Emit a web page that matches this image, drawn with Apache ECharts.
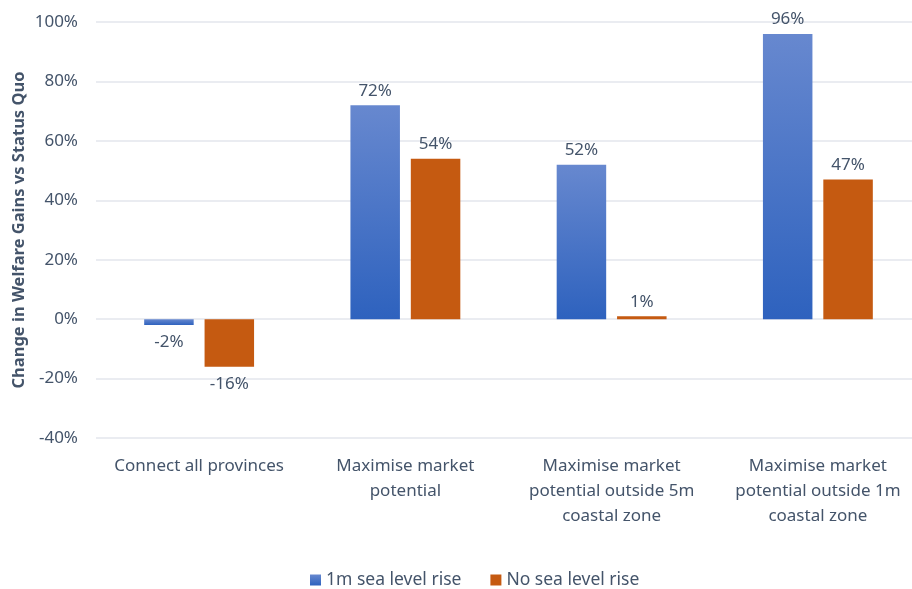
<!DOCTYPE html>
<html>
<head>
<meta charset="utf-8">
<script src="https://cdn.jsdelivr.net/npm/echarts@6/dist/echarts.min.js"></script>
<style>
html, body { margin: 0; padding: 0; background: #fff; }
#chart { width: 912px; height: 589px; }
</style>
</head>
<body>
<div id="chart"></div>
<script>
var categories = [
	'Connect all provinces',
	'Maximise market\npotential',
	'Maximise market\npotential outside 5m\ncoastal zone',
	'Maximise market\npotential outside 1m\ncoastal zone'
];
var seaRise1m = [-2, 72, 52, 96];
var noSeaRise = [-16, 54, 1, 47];
var yTicks = { min: -40, max: 100, step: 20 };

var textColor = '#44546a';
var fontFamily = 'Noto Sans, sans-serif';

// negative values get their label under the bar
function withLabels(values) {
	return values.map(function (v) {
		return {
			value: v,
			label: v < 0 ? { position: 'bottom', distance: 9 } : { position: 'top', distance: 6 }
		};
	});
}

var blueFill = new echarts.graphic.LinearGradient(0, 0, 0, 1, [
	{ offset: 0, color: '#6788cf' },
	{ offset: 1, color: '#2e62be' }
]);

var option = {
	backgroundColor: '#fff',
	textStyle: { fontFamily: fontFamily },
	grid: {
		left: 96,
		top: 22,
		width: 825,
		height: 416,
		outerBoundsMode: 'none'
	},
	legend: {
		top: 566,
		left: 305,
		itemWidth: 11,
		itemHeight: 11,
		itemGap: 29,
		icon: 'rect',
		textStyle: { color: textColor, fontSize: 17.5, fontFamily: fontFamily },
		data: ['1m sea level rise', 'No sea level rise']
	},
	xAxis: {
		type: 'category',
		data: categories,
		axisLine: { show: false },
		axisTick: { show: false },
		axisLabel: {
			color: textColor,
			fontSize: 17,
			lineHeight: 25,
			margin: 16,
			interval: 0
		}
	},
	yAxis: {
		type: 'value',
		min: yTicks.min,
		max: yTicks.max,
		interval: yTicks.step,
		name: 'Change in Welfare Gains vs Status Quo',
		nameLocation: 'middle',
		nameGap: 68,
		nameMoveOverlap: false,
		nameTextStyle: { color: textColor, fontSize: 16.5, fontWeight: 'bold' },
		axisLine: { show: false },
		axisTick: { show: false },
		axisLabel: {
			color: textColor,
			fontSize: 17,
			margin: 18,
			formatter: '{value}%'
		},
		splitLine: { lineStyle: { color: '#e3e6ec', width: 1.5 } }
	},
	series: [{
		name: '1m sea level rise',
		type: 'bar',
		barWidth: '24%',
		barGap: '22%',
		itemStyle: { color: blueFill },
		label: {
			show: true,
			color: textColor,
			fontSize: 17,
			formatter: '{c}%'
		},
		data: withLabels(seaRise1m)
	}, {
		name: 'No sea level rise',
		type: 'bar',
		barWidth: '24%',
		itemStyle: { color: '#c55a11' },
		label: {
			show: true,
			color: textColor,
			fontSize: 17,
			formatter: '{c}%'
		},
		data: withLabels(noSeaRise)
	}]
};

var myChart = echarts.init(document.getElementById('chart'));
myChart.setOption(option);
</script>
</body>
</html>
